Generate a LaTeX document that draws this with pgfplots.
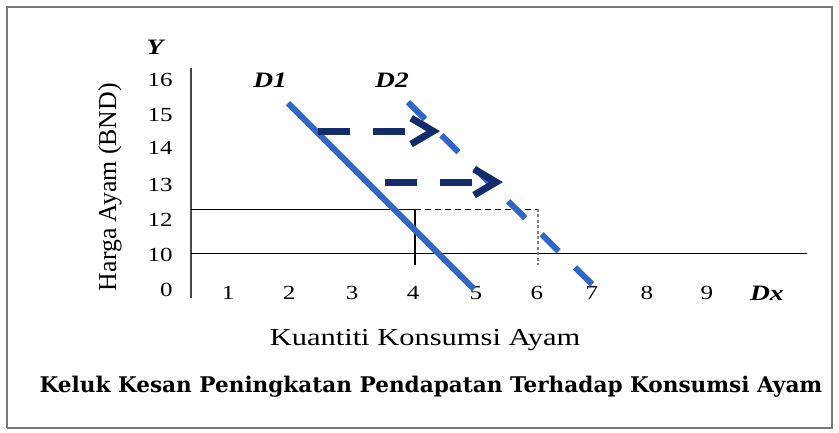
\documentclass[border=0pt]{standalone}
\usepackage{fontspec}
\setmainfont{Liberation Serif}[FakeStretch=1.25]
\newfontfamily\ylabfont{Liberation Serif}
\newfontfamily\titlefont{DejaVu Serif}
\usepackage{pgfplots}
\pgfplotsset{compat=1.18}
\usetikzlibrary{arrows.meta}
\definecolor{dblue}{RGB}{48,102,204}
\definecolor{arrowblue}{RGB}{20,44,105}
\definecolor{framegray}{RGB}{120,120,120}
\definecolor{axisgray}{RGB}{70,70,70}
\begin{document}
\begin{tikzpicture}
\begin{axis}[
  scale only axis, width=419.5pt, height=216pt,
  xmin=0, xmax=839, ymin=0, ymax=432,
  axis line style={draw=none}, major tick length=0pt,
  clip=false,
  xtick={228,289,352,413,476,537,592,647,707,767},
  xticklabels={1,2,3,4,5,6,7,8,9,{\fontsize{11}{13}\selectfont\bfseries\itshape Dx}},
  xticklabel style={anchor=center, yshift=69.5pt, font=\fontsize{10}{12}\selectfont},
  ytick={142,177,212,247,284,317,352},
  yticklabels={0,10,12,13,14,15,16},
  yticklabel style={anchor=east, inner sep=0pt, xshift=86.5pt, font=\fontsize{10}{12}\selectfont},
  xlabel={Kuantiti Konsumsi Ayam},
  xlabel style={at={(axis description cs:0.5066,0.2130)}, anchor=center, font=\fontsize{12.2}{14}\selectfont},
  ylabel={Harga Ayam (BND)},
  ylabel style={at={(axis description cs:0.131,0.567)}, anchor=center, font=\ylabfont\fontsize{12.9}{14}\selectfont},
  title={Keluk Kesan Peningkatan Pendapatan Terhadap Konsumsi Ayam},
  title style={at={(axis description cs:0.5137,0.0763)}, anchor=center, yshift=0pt, font=\titlefont\bfseries\fontsize{10.8}{12}\selectfont},
]
% frame
\addplot[framegray, line width=0.8pt] coordinates {(7,4) (832,4) (832,425) (7,425) (7,4)};
% vertical axis line
\addplot[axisgray, line width=0.8pt] coordinates {(191,364) (191,134)};
% horizontal reference lines
\addplot[black, line width=0.55pt] coordinates {(191,179) (807,179)};
\addplot[black, line width=0.55pt] coordinates {(191,223) (415,223)};
\addplot[black, line width=0.55pt] coordinates {(415,223) (415,167)};
\addplot[black, line width=0.5pt, dash pattern=on 3pt off 2pt] coordinates {(415,223) (538,223)};
\addplot[gray, line width=1.2pt, dash pattern=on 1.5pt off 1.2pt] coordinates {(538,223) (538,167)};
% demand curves
\addplot[dblue, line width=3pt] coordinates {(288,329) (474,143)};
\addplot[dblue, line width=3pt, dash pattern=on 12pt off 11.5pt] coordinates {(408,330) (597,143)};
% shift arrows
\addplot[arrowblue, line width=3.5pt, dash pattern=on 16pt off 11.5pt, -{Straight Barb[length=11pt,width=13pt]}] coordinates {(318,301) (440,301)};
\addplot[arrowblue, line width=3.5pt, dash pattern=on 16pt off 11.5pt, -{Straight Barb[length=11pt,width=13pt]}] coordinates {(385,250) (503,250)};
% labels
\node[font=\fontsize{11}{13}\selectfont\bfseries\itshape] at (axis cs:155,385) {Y};
\node[font=\fontsize{11}{13}\selectfont\bfseries\itshape] at (axis cs:270,352) {D1};
\node[font=\fontsize{11}{13}\selectfont\bfseries\itshape] at (axis cs:392,352) {D2};
\end{axis}
\end{tikzpicture}
\end{document}
